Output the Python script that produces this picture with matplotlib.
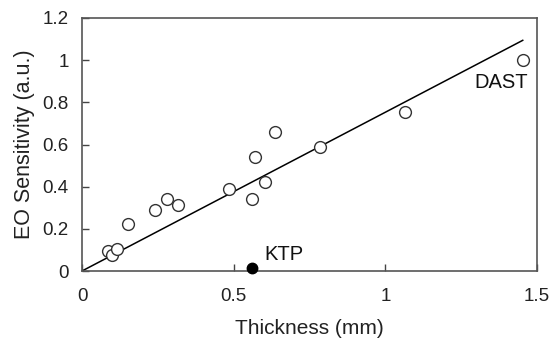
import matplotlib
matplotlib.use('Agg')
import matplotlib.pyplot as plt
import numpy as np

plt.rcParams['font.family'] = ['Liberation Sans', 'DejaVu Sans']

# open circles: samples
thickness = [0.087, 0.10, 0.114, 0.15, 0.24, 0.28, 0.316, 0.483, 0.56, 0.57,
             0.603, 0.637, 0.783, 1.066, 1.453]
sensitivity = [0.095, 0.074, 0.106, 0.223, 0.289, 0.341, 0.313, 0.389, 0.341, 0.539,
               0.422, 0.66, 0.586, 0.752, 1.003]

# KTP reference point
ktp_x = [0.56]
ktp_y = [0.016]

# linear fit through origin
fit_x = [0.0, 1.453]
fit_slope = 0.753

fig = plt.figure(figsize=(5.51, 3.39), dpi=100)
ax = fig.add_axes([82/551, 1 - 271/339, (537-82)/551, (271-18)/339])

fit_y = [fit_slope * v for v in fit_x]
ax.plot(fit_x, fit_y, color='black', lw=1.1, zorder=2)
ax.plot(thickness, sensitivity, 'o', mfc='white', mec='#333333', mew=1.0, ms=8.5, zorder=3)
ax.plot(ktp_x, ktp_y, 'o', color='black', ms=7.5, zorder=3, clip_on=False)

ax.text(0.60, 0.076, 'KTP', fontsize=14.5, va='center', ha='left', color='#111111')
ax.text(1.47, 0.893, 'DAST', fontsize=14.5, va='center', ha='right', color='#111111')

ax.set_xlim(0, 1.5)
ax.set_ylim(0, 1.2)
ax.set_xticks([0, 0.5, 1, 1.5])
ax.set_xticklabels(['0', '0.5', '1', '1.5'])
ax.set_yticks([0, 0.2, 0.4, 0.6, 0.8, 1.0, 1.2])
ax.set_yticklabels(['0', '0.2', '0.4', '0.6', '0.8', '1', '1.2'])
ax.tick_params(direction='in', length=5, width=1, color='#444444', labelsize=13.5,
               labelcolor='#222222')
ax.tick_params(axis='x', pad=12.5)
ax.tick_params(axis='y', pad=9.5)
for s in ax.spines.values():
    s.set_color('#555555')
    s.set_linewidth(1.2)

ax.set_xlabel('Thickness (mm)', fontsize=15, color='#222222', va='center')
ax.set_ylabel('EO Sensitivity (a.u.)', fontsize=15.5, color='#222222', va='center')
ax.xaxis.set_label_coords(0.5, (271 - 329) / 253)
ax.yaxis.set_label_coords((25 - 82) / 455, 0.5)

fig.savefig('out.png', dpi=100)
